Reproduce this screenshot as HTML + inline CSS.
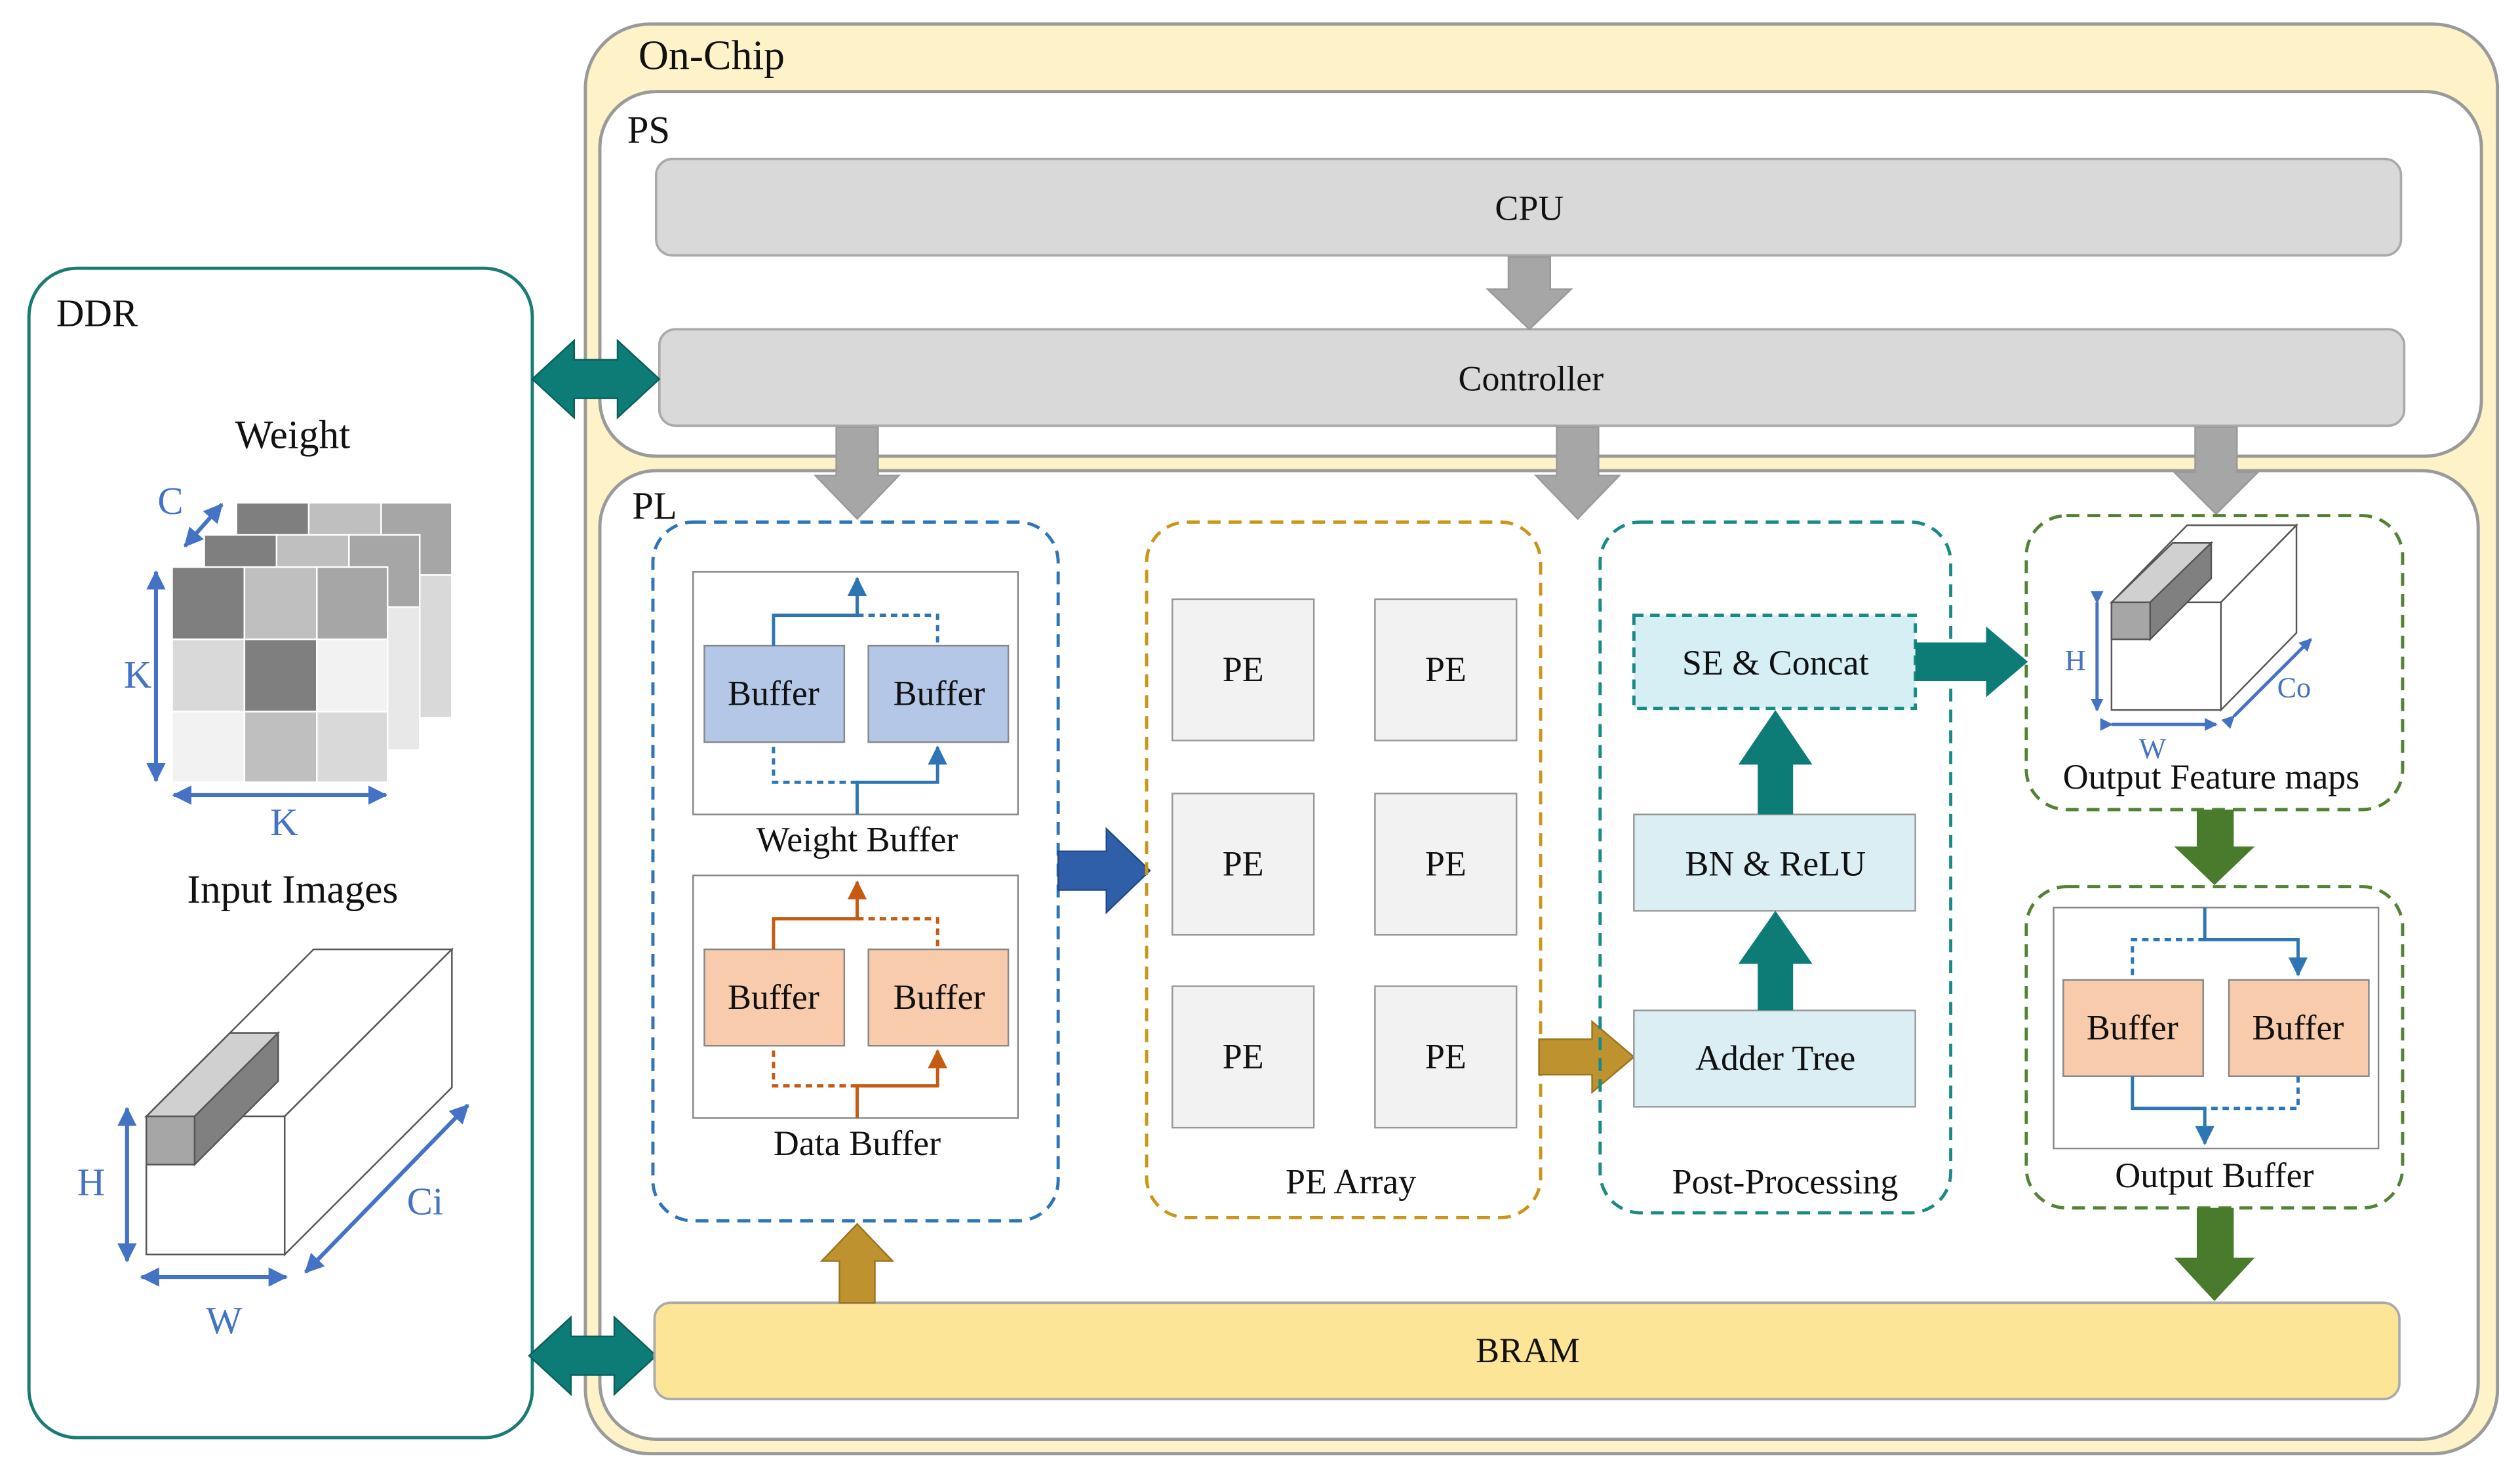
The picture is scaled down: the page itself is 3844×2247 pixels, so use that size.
<!DOCTYPE html>
<html><head><meta charset="utf-8"><style>
html,body{margin:0;padding:0;background:#fff}
svg{display:block}
text{font-family:"Liberation Serif",serif;fill:#111}
</style></head><body>
<svg width="3844" height="2247" viewBox="0 0 1567 917" preserveAspectRatio="none" xmlns="http://www.w3.org/2000/svg">
<defs>
<marker id="ab" markerWidth="8" markerHeight="8" refX="7" refY="4" orient="auto" markerUnits="userSpaceOnUse"><path d="M0,0 L8,4 L0,8 z" fill="#4472c4"/></marker>
<marker id="ab2" markerWidth="12" markerHeight="12" refX="11" refY="6" orient="auto-start-reverse" markerUnits="userSpaceOnUse"><path d="M0,0 L12,6 L0,12 z" fill="#4472c4"/></marker>
<marker id="ao" markerWidth="12" markerHeight="12" refX="11" refY="6" orient="auto" markerUnits="userSpaceOnUse"><path d="M0,0 L12,6 L0,12 z" fill="#c55a11"/></marker>
<marker id="abl" markerWidth="12" markerHeight="12" refX="11" refY="6" orient="auto" markerUnits="userSpaceOnUse"><path d="M0,0 L12,6 L0,12 z" fill="#2e75b6"/></marker>
</defs>
<rect width="1567" height="917" fill="#fff"/>
<rect x="364" y="15" width="1189" height="890" rx="40" fill="#fdf2c8" stroke="#9a9a9a" stroke-width="2"/>
<text x="397" y="43" font-size="26">On-Chip</text>
<rect x="373" y="57" width="1170" height="227" rx="35" fill="#fff" stroke="#9a9a9a" stroke-width="2"/>
<text x="390" y="89" font-size="24">PS</text>
<rect x="408" y="99" width="1085" height="60" rx="10" fill="#d9d9d9" stroke="#aaa" stroke-width="1.5"/>
<text x="951" y="137" font-size="22" text-anchor="middle">CPU</text>
<rect x="410" y="205" width="1085" height="60" rx="10" fill="#d9d9d9" stroke="#aaa" stroke-width="1.5"/>
<text x="952" y="243" font-size="22" text-anchor="middle">Controller</text>
<polygon points="938,160 964,160 964,180 977,180 951,205 925,180 938,180" fill="#a6a6a6" stroke="#999"/>
<rect x="373" y="293" width="1168" height="603" rx="35" fill="#fff" stroke="#9a9a9a" stroke-width="2"/>
<text x="393" y="323" font-size="24">PL</text>
<polygon points="520,266 546,266 546,296 559,296 533,323 507,296 520,296" fill="#a6a6a6" stroke="#999"/>
<polygon points="968,266 994,266 994,296 1007,296 981,323 955,296 968,296" fill="#a6a6a6" stroke="#999"/>
<polygon points="1365,266 1391,266 1391,294 1404,294 1378,320 1352,294 1365,294" fill="#a6a6a6" stroke="#999"/>
<rect x="18" y="167" width="313" height="728" rx="30" fill="#fff" stroke="#1a7a74" stroke-width="2"/>
<text x="35" y="203" font-size="24">DDR</text>
<text x="182" y="279" font-size="25" text-anchor="middle">Weight</text>
<text x="182" y="562" font-size="25" text-anchor="middle">Input Images</text>
<polygon points="331,236 357,212 357,224 384,224 384,212 410,236 384,260 384,248 357,248 357,260" fill="#0e7c76" stroke="#0a5f5a"/>
<polygon points="329,844 355,820 355,832 382,832 382,820 408,844 382,868 382,856 355,856 355,868" fill="#0e7c76" stroke="#0a5f5a"/>
<g stroke="#fff" stroke-width="1">
<rect x="147" y="313" width="45" height="45" fill="#7f7f7f"/><rect x="192" y="313" width="45" height="45" fill="#bfbfbf"/><rect x="237" y="313" width="44" height="45" fill="#a6a6a6"/>
<rect x="147" y="358" width="134" height="89" fill="#d9d9d9"/>
<rect x="127" y="333" width="45" height="45" fill="#7f7f7f"/><rect x="172" y="333" width="45" height="45" fill="#bfbfbf"/><rect x="217" y="333" width="44" height="45" fill="#a6a6a6"/>
<rect x="127" y="378" width="134" height="89" fill="#e8e8e8"/>
<rect x="107" y="353" width="45" height="45" fill="#7f7f7f"/><rect x="152" y="353" width="45" height="45" fill="#bfbfbf"/><rect x="197" y="353" width="44" height="45" fill="#a6a6a6"/>
<rect x="107" y="398" width="45" height="45" fill="#d9d9d9"/><rect x="152" y="398" width="45" height="45" fill="#7f7f7f"/><rect x="197" y="398" width="44" height="45" fill="#f2f2f2"/>
<rect x="107" y="443" width="45" height="44" fill="#f2f2f2"/><rect x="152" y="443" width="45" height="44" fill="#bfbfbf"/><rect x="197" y="443" width="44" height="44" fill="#d9d9d9"/>
</g>
<g stroke="#4472c4" stroke-width="2.5" fill="none">
<line x1="115" y1="340" x2="138" y2="314" marker-start="url(#ab2)" marker-end="url(#ab2)"/>
<line x1="97" y1="356" x2="97" y2="486" marker-start="url(#ab2)" marker-end="url(#ab2)"/>
<line x1="108" y1="495" x2="240" y2="495" marker-start="url(#ab2)" marker-end="url(#ab2)"/>
</g>
<g font-size="24"><text x="98" y="320" style="fill:#4472c4">C</text><text x="77" y="428" style="fill:#4472c4">K</text><text x="168" y="520" style="fill:#4472c4">K</text></g>
<g stroke="#555" stroke-width="1">
<polygon points="91,695 177,695 281,591 195,591" fill="#fff"/>
<polygon points="177,695 281,591 281,677 177,781" fill="#fff"/>
<rect x="91" y="695" width="86" height="86" fill="#fff"/>
<polygon points="91,695 121,695 173,643 143,643" fill="#d0d0d0"/>
<polygon points="121,695 173,643 173,673 121,725" fill="#808080"/>
<rect x="91" y="695" width="30" height="30" fill="#a6a6a6"/>
</g>
<g stroke="#4472c4" stroke-width="2.5" fill="none">
<line x1="79" y1="690" x2="79" y2="785" marker-start="url(#ab2)" marker-end="url(#ab2)"/>
<line x1="88" y1="795" x2="178" y2="795" marker-start="url(#ab2)" marker-end="url(#ab2)"/>
<line x1="190" y1="792" x2="291" y2="688" marker-start="url(#ab2)" marker-end="url(#ab2)"/>
</g>
<text x="48" y="744" font-size="24" style="fill:#4472c4">H</text>
<text x="128" y="830" font-size="24" style="fill:#4472c4">W</text>
<text x="253" y="756" font-size="24" style="fill:#4472c4">Ci</text>
<rect x="406" y="325" width="252" height="435" rx="25" fill="none" stroke="#2e75b6" stroke-width="2" stroke-dasharray="8,5"/>
<rect x="431" y="356" width="202" height="151" fill="#fff" stroke="#888"/>
<rect x="438" y="402" width="87" height="60" fill="#b4c7e7" stroke="#888"/>
<rect x="540" y="402" width="87" height="60" fill="#b4c7e7" stroke="#888"/>
<text x="481" y="439" font-size="22" text-anchor="middle">Buffer</text>
<text x="584" y="439" font-size="22" text-anchor="middle">Buffer</text>
<g stroke="#2e75b6" stroke-width="2" fill="none">
<polyline points="481,402 481,383 533,383 533,360" marker-end="url(#abl)"/>
<polyline points="533,383 583,383 583,402" stroke-dasharray="4,3"/>
<polyline points="533,507 533,487 583,487 583,465" marker-end="url(#abl)"/>
<polyline points="533,487 481,487 481,462" stroke-dasharray="4,3"/>
</g>
<text x="533" y="530" font-size="22" text-anchor="middle">Weight Buffer</text>
<rect x="431" y="545" width="202" height="151" fill="#fff" stroke="#888"/>
<rect x="438" y="591" width="87" height="60" fill="#f8cbad" stroke="#888"/>
<rect x="540" y="591" width="87" height="60" fill="#f8cbad" stroke="#888"/>
<text x="481" y="628" font-size="22" text-anchor="middle">Buffer</text>
<text x="584" y="628" font-size="22" text-anchor="middle">Buffer</text>
<g stroke="#c55a11" stroke-width="2" fill="none">
<polyline points="481,591 481,572 533,572 533,549" marker-end="url(#ao)"/>
<polyline points="533,572 583,572 583,591" stroke-dasharray="4,3"/>
<polyline points="533,696 533,676 583,676 583,654" marker-end="url(#ao)"/>
<polyline points="533,676 481,676 481,651" stroke-dasharray="4,3"/>
</g>
<text x="533" y="719" font-size="22" text-anchor="middle">Data Buffer</text>
<polygon points="658,530 688,530 688,516 715,542 688,568 688,554 658,554" fill="#2e5fa8" stroke="#1f4a8a"/>
<rect x="713" y="325" width="245" height="433" rx="25" fill="none" stroke="#c9961a" stroke-width="2" stroke-dasharray="8,5"/>
<g fill="#f2f2f2" stroke="#999">
<rect x="729" y="373" width="88" height="88"/><rect x="855" y="373" width="88" height="88"/>
<rect x="729" y="494" width="88" height="88"/><rect x="855" y="494" width="88" height="88"/>
<rect x="729" y="614" width="88" height="88"/><rect x="855" y="614" width="88" height="88"/>
</g>
<g font-size="22" text-anchor="middle">
<text x="773" y="424">PE</text><text x="899" y="424">PE</text>
<text x="773" y="545">PE</text><text x="899" y="545">PE</text>
<text x="773" y="665">PE</text><text x="899" y="665">PE</text>
<text x="840" y="743">PE Array</text>
</g>
<polygon points="957,647 990,647 990,636 1016,658 990,680 990,669 957,669" fill="#bf9230" stroke="#9a7420"/>
<rect x="995" y="325" width="218" height="430" rx="25" fill="none" stroke="#1a8a84" stroke-width="2" stroke-dasharray="8,5"/>
<rect x="1016" y="383" width="175" height="58" fill="#d6eff5" stroke="#1a8a84" stroke-width="2" stroke-dasharray="6,4"/>
<text x="1104" y="420" font-size="22" text-anchor="middle">SE &amp; Concat</text>
<rect x="1016" y="507" width="175" height="60" fill="#daeef3" stroke="#999"/>
<text x="1104" y="545" font-size="22" text-anchor="middle">BN &amp; ReLU</text>
<rect x="1016" y="629" width="175" height="60" fill="#daeef3" stroke="#999"/>
<text x="1104" y="666" font-size="22" text-anchor="middle">Adder Tree</text>
<text x="1110" y="743" font-size="22" text-anchor="middle">Post-Processing</text>
<polygon points="1093,629 1115,629 1115,600 1127,600 1104,567 1081,600 1093,600" fill="#0e7c76"/>
<polygon points="1093,507 1115,507 1115,476 1127,476 1104,442 1081,476 1093,476" fill="#0e7c76"/>
<polygon points="1191,400 1235,400 1235,390 1261,412 1235,434 1235,424 1191,424" fill="#0e7c76"/>
<rect x="1260" y="321" width="234" height="183" rx="25" fill="none" stroke="#548235" stroke-width="2" stroke-dasharray="8,5"/>
<g stroke="#555" stroke-width="1">
<polygon points="1313,375 1381,375 1428,327 1360,327" fill="#fff"/>
<polygon points="1381,375 1428,327 1428,394 1381,442" fill="#fff"/>
<rect x="1313" y="375" width="68" height="67" fill="#fff"/>
<polygon points="1313,375 1337,375 1375,338 1351,338" fill="#d0d0d0"/>
<polygon points="1337,375 1375,338 1375,360 1337,398" fill="#808080"/>
<rect x="1313" y="375" width="24" height="23" fill="#a6a6a6"/>
</g>
<g stroke="#4472c4" stroke-width="2" fill="none">
<line x1="1304" y1="375" x2="1304" y2="442" marker-start="url(#ab)" marker-end="url(#ab)"/>
<line x1="1313" y1="451" x2="1378" y2="451" marker-start="url(#ab)" marker-end="url(#ab)"/>
<line x1="1389" y1="446" x2="1437" y2="398" marker-start="url(#ab)" marker-end="url(#ab)"/>
</g>
<text x="1284" y="417" font-size="18" style="fill:#4472c4">H</text>
<text x="1330" y="472" font-size="18" style="fill:#4472c4">W</text>
<text x="1416" y="434" font-size="18" style="fill:#4472c4">Co</text>
<text x="1375" y="491" font-size="22" text-anchor="middle">Output Feature maps</text>
<polygon points="1366,504 1389,504 1389,527 1402,527 1377,551 1352,527 1366,527" fill="#4a7a2c"/>
<rect x="1260" y="552" width="234" height="200" rx="25" fill="none" stroke="#548235" stroke-width="2" stroke-dasharray="8,5"/>
<rect x="1277" y="565" width="202" height="150" fill="#fff" stroke="#888"/>
<rect x="1283" y="610" width="87" height="60" fill="#f8cbad" stroke="#888"/>
<rect x="1386" y="610" width="87" height="60" fill="#f8cbad" stroke="#888"/>
<text x="1326" y="647" font-size="22" text-anchor="middle">Buffer</text>
<text x="1429" y="647" font-size="22" text-anchor="middle">Buffer</text>
<g stroke="#2e75b6" stroke-width="2" fill="none">
<polyline points="1371,565 1371,585 1429,585 1429,607" marker-end="url(#abl)"/>
<polyline points="1371,585 1326,585 1326,610" stroke-dasharray="4,3"/>
<polyline points="1326,670 1326,690 1371,690 1371,712" marker-end="url(#abl)"/>
<polyline points="1429,670 1429,690 1371,690" stroke-dasharray="4,3"/>
</g>
<text x="1377" y="739" font-size="22" text-anchor="middle">Output Buffer</text>
<polygon points="1366,752 1389,752 1389,783 1402,783 1377,810 1352,783 1366,783" fill="#4a7a2c"/>
<rect x="407" y="811" width="1085" height="60" rx="10" fill="#fce597" stroke="#aaa" stroke-width="1.5"/>
<text x="950" y="848" font-size="22" text-anchor="middle">BRAM</text>
<polygon points="522,811 544,811 544,785 555,785 533,762 511,785 522,785" fill="#bf9230" stroke="#9a7420"/>
</svg>
</body></html>
